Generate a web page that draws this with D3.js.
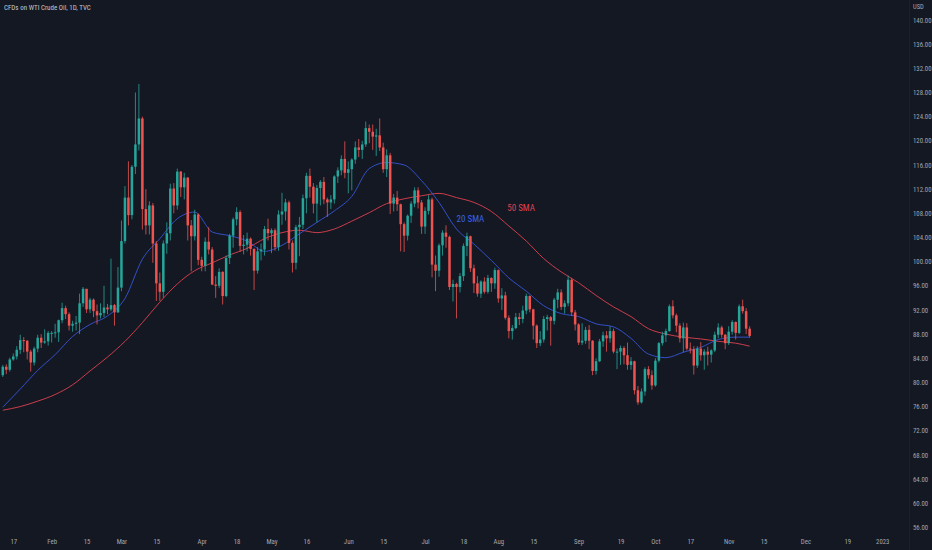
<!DOCTYPE html>
<html lang="en">
<head>
    <meta charset="UTF-8">
    <title>CFDs on WTI Crude Oil, 1D, TVC</title>
    <script src="https://d3js.org/d3.v7.min.js" charset="utf-8"></script>
    <style>
        html, body { margin: 0; padding: 0; background: #141823; }
        svg { display: block; }
        .axis text { font-family: "Liberation Sans Narrow", "Roboto Condensed", "Liberation Sans", sans-serif; font-size: 6.8px; fill: #a3a6af; }
        .axis path, .axis line { display: none; }
    </style>
</head>
<body>
<script>
    // trading sessions shown on the chart (Good Friday skipped)
    const dates = [
        "2022-01-12","2022-01-13","2022-01-14","2022-01-17","2022-01-18","2022-01-19","2022-01-20","2022-01-21","2022-01-24","2022-01-25","2022-01-26","2022-01-27","2022-01-28","2022-01-31",
        "2022-02-01","2022-02-02","2022-02-03","2022-02-04","2022-02-07","2022-02-08","2022-02-09","2022-02-10","2022-02-11","2022-02-14","2022-02-15","2022-02-16","2022-02-17","2022-02-18","2022-02-21","2022-02-22","2022-02-23","2022-02-24","2022-02-25","2022-02-28",
        "2022-03-01","2022-03-02","2022-03-03","2022-03-04","2022-03-07","2022-03-08","2022-03-09","2022-03-10","2022-03-11","2022-03-14","2022-03-15","2022-03-16","2022-03-17","2022-03-18","2022-03-21","2022-03-22","2022-03-23","2022-03-24","2022-03-25","2022-03-28","2022-03-29","2022-03-30","2022-03-31",
        "2022-04-01","2022-04-04","2022-04-05","2022-04-06","2022-04-07","2022-04-08","2022-04-11","2022-04-12","2022-04-13","2022-04-14","2022-04-18","2022-04-19","2022-04-20","2022-04-21","2022-04-22","2022-04-25","2022-04-26","2022-04-27","2022-04-28","2022-04-29",
        "2022-05-02","2022-05-03","2022-05-04","2022-05-05","2022-05-06","2022-05-09","2022-05-10","2022-05-11","2022-05-12","2022-05-13","2022-05-16","2022-05-17","2022-05-18","2022-05-19","2022-05-20","2022-05-23","2022-05-24","2022-05-25","2022-05-26","2022-05-27","2022-05-30","2022-05-31",
        "2022-06-01","2022-06-02","2022-06-03","2022-06-06","2022-06-07","2022-06-08","2022-06-09","2022-06-10","2022-06-13","2022-06-14","2022-06-15","2022-06-16","2022-06-17","2022-06-20","2022-06-21","2022-06-22","2022-06-23","2022-06-24","2022-06-27","2022-06-28","2022-06-29","2022-06-30",
        "2022-07-01","2022-07-04","2022-07-05","2022-07-06","2022-07-07","2022-07-08","2022-07-11","2022-07-12","2022-07-13","2022-07-14","2022-07-15","2022-07-18","2022-07-19","2022-07-20","2022-07-21","2022-07-22","2022-07-25","2022-07-26","2022-07-27","2022-07-28","2022-07-29",
        "2022-08-01","2022-08-02","2022-08-03","2022-08-04","2022-08-05","2022-08-08","2022-08-09","2022-08-10","2022-08-11","2022-08-12","2022-08-15","2022-08-16","2022-08-17","2022-08-18","2022-08-19","2022-08-22","2022-08-23","2022-08-24","2022-08-25","2022-08-26","2022-08-29","2022-08-30","2022-08-31",
        "2022-09-01","2022-09-02","2022-09-05","2022-09-06","2022-09-07","2022-09-08","2022-09-09","2022-09-12","2022-09-13","2022-09-14","2022-09-15","2022-09-16","2022-09-19","2022-09-20","2022-09-21","2022-09-22","2022-09-23","2022-09-26","2022-09-27","2022-09-28","2022-09-29","2022-09-30",
        "2022-10-03","2022-10-04","2022-10-05","2022-10-06","2022-10-07","2022-10-10","2022-10-11","2022-10-12","2022-10-13","2022-10-14","2022-10-17","2022-10-18","2022-10-19","2022-10-20","2022-10-21","2022-10-24","2022-10-25","2022-10-26","2022-10-27","2022-10-28","2022-10-31",
        "2022-11-01","2022-11-02","2022-11-03","2022-11-04","2022-11-07","2022-11-08","2022-11-09"
    ];

    const opens = [
        81.2,82.6,82.1,83.8,84.3,85.4,87.0,86.9,85.1,83.3,85.6,87.4,86.6,86.8,
        88.2,88.2,88.3,90.3,92.3,91.3,89.4,89.7,89.9,93.1,95.5,92.1,93.7,91.8,91.1,91.5,92.4,92.1,92.8,91.6,
        95.7,103.4,110.6,107.7,115.7,119.4,123.7,108.7,106.0,109.3,103.0,96.4,95.0,103.0,104.7,112.1,109.3,114.9,112.3,113.9,106.0,104.2,107.8,
        100.3,99.3,103.3,102.0,96.2,96.0,98.3,94.3,100.6,104.3,107.0,108.2,102.6,102.8,103.8,102.1,98.5,101.7,102.0,105.4,
        104.7,105.2,102.4,107.8,108.3,109.8,103.1,99.8,105.7,106.1,110.5,114.2,112.4,109.6,112.2,113.2,110.3,109.8,110.3,114.1,115.1,117.0,
        114.7,115.3,116.9,118.9,118.5,119.4,122.1,121.5,120.7,120.9,118.9,115.3,117.6,109.6,110.6,109.5,106.2,104.3,107.6,109.6,111.8,109.8,
        105.8,108.4,110.3,99.5,98.5,102.7,104.8,104.1,95.8,96.3,95.8,97.6,102.6,104.2,98.9,96.4,94.7,96.7,95.0,97.3,96.4,
        98.6,93.9,94.4,90.7,88.5,89.0,90.8,90.5,91.9,94.3,92.1,89.4,86.5,87.1,90.5,90.8,90.2,93.7,94.9,92.5,93.1,97.0,91.6,
        89.6,86.6,86.9,88.7,86.9,81.9,83.5,86.8,87.8,87.3,88.5,85.1,85.1,85.7,84.5,82.9,83.5,78.7,76.7,78.5,82.2,81.2,
        79.5,83.6,86.5,87.8,88.5,92.6,91.1,89.4,87.3,89.1,85.6,85.5,82.8,85.6,84.5,85.1,84.6,85.3,87.9,89.1,87.9,
        86.5,88.4,90.0,88.2,92.6,91.8,88.9
    ];
    const highs = [
        82.9,83.0,84.1,84.8,86.0,87.9,87.5,87.0,85.4,85.9,87.9,88.0,88.8,88.5,
        88.5,89.7,90.4,93.2,92.7,91.6,90.2,91.0,94.7,95.8,95.5,94.0,93.9,92.9,93.1,96.0,93.0,100.5,93.0,99.1,
        106.8,112.5,116.6,116.0,128.0,129.4,124.0,112.0,110.0,109.7,103.4,98.2,103.5,106.5,112.9,113.0,115.4,115.0,114.7,114.0,106.9,108.6,108.0,
        100.8,104.0,105.7,102.4,97.6,98.9,98.4,101.0,104.6,107.3,109.0,108.5,104.4,104.8,104.0,102.2,102.4,103.0,105.9,107.1,
        105.5,105.5,108.5,111.4,110.4,110.1,103.5,106.1,107.4,111.1,114.7,115.4,113.0,112.7,113.5,114.0,110.6,111.0,114.3,115.6,117.6,119.9,
        116.6,117.1,119.9,120.3,120.0,123.2,122.7,122.7,122.0,123.7,119.7,118.6,118.0,111.2,111.7,109.6,106.5,107.8,110.0,112.3,112.3,110.2,
        109.0,111.0,110.6,101.0,103.0,105.2,106.0,104.3,97.0,96.5,98.1,103.0,104.8,104.3,99.5,97.6,96.9,97.4,97.8,97.4,99.0,
        98.7,95.6,95.0,91.1,89.5,91.5,91.5,92.7,94.7,94.4,92.2,89.6,88.5,91.0,91.2,91.0,94.0,95.5,95.4,93.6,97.7,97.3,92.0,
        89.8,89.8,89.2,89.5,87.0,84.0,87.2,88.4,88.5,89.3,88.9,85.6,86.1,86.0,86.6,84.2,83.6,79.4,79.0,82.5,82.7,82.0,
        84.0,86.7,88.4,88.9,92.9,93.6,91.4,89.8,89.9,89.8,86.6,86.0,86.0,86.7,85.5,85.9,85.5,88.4,89.8,89.4,88.0,
        89.3,90.3,90.1,92.9,93.7,92.3,89.3
    ];
    const lows = [
        80.9,81.4,81.8,83.6,83.8,84.7,85.0,83.8,81.8,82.8,85.0,85.7,86.4,86.1,
        86.6,87.4,86.7,89.8,90.5,88.6,88.4,88.6,88.0,92.5,91.5,91.5,90.8,89.6,90.6,90.8,91.3,91.8,89.4,91.5,
        95.1,103.0,106.0,107.0,114.5,118.4,105.3,104.5,104.5,99.8,93.5,93.5,94.0,101.3,103.5,108.0,108.6,110.7,110.3,103.5,98.4,103.5,99.4,
        98.4,98.4,101.2,96.1,94.0,95.6,92.9,94.1,99.6,102.3,106.0,101.6,101.2,101.7,101.0,95.3,98.0,100.2,101.0,103.5,
        101.4,101.8,101.8,106.1,106.8,102.0,98.2,98.7,100.9,105.4,108.0,110.6,108.0,106.5,109.3,109.5,107.4,108.7,109.6,113.0,114.3,113.8,
        111.3,111.8,116.2,117.3,117.0,119.0,119.6,118.5,117.5,118.3,114.7,114.0,107.9,108.3,108.4,101.7,101.6,103.5,106.4,109.0,108.8,104.6,
        104.6,107.8,97.4,95.1,97.5,101.0,102.3,95.3,93.4,90.6,94.9,96.8,100.9,98.3,94.8,94.2,94.0,94.7,94.7,95.0,95.5,
        93.2,92.0,90.4,87.3,87.1,88.8,89.5,89.8,91.3,91.6,87.1,85.7,86.0,86.6,88.6,86.1,89.6,92.3,92.0,91.4,92.6,91.0,88.6,
        86.2,86.2,86.4,85.5,81.2,81.3,83.4,85.9,85.1,86.6,84.8,82.2,82.9,83.0,82.1,82.1,78.0,76.3,76.5,77.8,80.6,78.8,
        79.3,83.3,86.1,86.7,88.4,90.6,88.3,86.6,85.0,85.3,84.8,81.3,82.4,83.6,82.1,82.8,83.3,85.0,87.3,87.4,85.5,
        86.2,87.9,87.1,88.0,91.4,88.0,87.4
    ];
    const closes = [
        82.6,82.1,83.8,84.3,85.4,87.0,86.9,85.1,83.3,85.6,87.4,86.6,86.8,88.2,
        88.2,88.3,90.3,92.3,91.3,89.4,89.7,89.9,93.1,95.5,92.1,93.7,91.8,91.1,91.5,92.4,92.1,92.8,91.6,95.7,
        103.4,110.6,107.7,115.7,119.4,123.7,108.7,106.0,109.3,103.0,96.4,95.0,103.0,104.7,112.1,109.3,114.9,112.3,113.9,106.0,104.2,107.8,100.3,
        99.3,103.3,102.0,96.2,96.0,98.3,94.3,100.6,104.3,107.0,108.2,102.6,102.8,103.8,102.1,98.5,101.7,102.0,105.4,104.7,
        105.2,102.4,107.8,108.3,109.8,103.1,99.8,105.7,106.1,110.5,114.2,112.4,109.6,112.2,113.2,110.3,109.8,110.3,114.1,115.1,117.0,114.7,
        115.3,116.9,118.9,118.5,119.4,122.1,121.5,120.7,120.9,118.9,115.3,117.6,109.6,110.6,109.5,106.2,104.3,107.6,109.6,111.8,109.8,105.8,
        108.4,110.3,99.5,98.5,102.7,104.8,104.1,95.8,96.3,95.8,97.6,102.6,104.2,98.9,96.4,94.7,96.7,95.0,97.3,96.4,98.6,
        93.9,94.4,90.7,88.5,89.0,90.8,90.5,91.9,94.3,92.1,89.4,86.5,87.1,90.5,90.8,90.2,93.7,94.9,92.5,93.1,97.0,91.6,89.6,
        86.6,86.9,88.7,86.9,81.9,83.5,86.8,87.8,87.3,88.5,85.1,85.1,85.7,84.5,82.9,83.5,78.7,76.7,78.5,82.2,81.2,79.5,
        83.6,86.5,87.8,88.5,92.6,91.1,89.4,87.3,89.1,85.6,85.5,82.8,85.6,84.5,85.1,84.6,85.3,87.9,89.1,87.9,86.5,
        88.4,90.0,88.2,92.6,91.8,88.9,87.7
    ];

    // moving averages every 5 bars
    const smaBars = [0,5,10,15,20,25,30,35,40,45,50,55,60,65,70,75,80,85,90,95,100,105,110,115,120,125,130,135,140,145,150,155,160,165,170,175,180,185,190,195,200,205,210,214];
    const sma20 = [75.9,78.9,82.0,84.6,87.6,89.6,91.0,93.9,100.4,103.8,107.1,108.2,104.9,104.3,103.4,101.7,102.7,104.6,106.5,108.4,110.8,115.4,116.4,116.0,113.4,109.8,105.4,102.9,100.2,97.3,95.1,92.7,91.4,90.9,89.7,89.2,87.3,84.7,84.1,85.0,85.8,87.1,87.5,87.5];
    const sma50 = [75.4,76.0,76.9,78.0,79.6,81.9,84.2,86.8,89.9,93.3,96.3,98.5,99.8,101.1,102.2,103.8,104.8,105.2,104.8,105.4,106.7,108.1,109.6,110.4,110.9,111.3,110.6,109.8,108.3,105.9,103.4,100.5,98.3,96.5,94.4,92.5,90.9,88.9,88.0,87.5,87.2,86.8,86.5,86.0];

    const priceTicks = [140,136,132,128,124,120,116,112,108,104,100,96,92,88,84,80,76,72,68,64,60,56];
    const timeTickDates = ["2022-01-17","2022-02-01","2022-02-15","2022-03-01","2022-03-15","2022-04-01","2022-04-18","2022-05-02","2022-05-16","2022-06-01","2022-06-15","2022-07-01","2022-07-18","2022-08-01","2022-08-15","2022-09-01","2022-09-19","2022-10-03","2022-10-17","2022-11-01","2022-11-15","2022-12-01","2022-12-19","2023-01-02"];
    const timeTickLabels = ["17","Feb","15","Mar","15","Apr","18","May","16","Jun","15","Jul","18","Aug","15","Sep","19","Oct","17","Nov","15","Dec","19","2023"];

    const W = 932, H = 550;
    const plotRight = 909, plotBottom = 532;
    const upColor = '#26a69a', downColor = '#ef5350';
    const narrow = '"Liberation Sans Narrow", "Roboto Condensed", "Liberation Sans", sans-serif';

    const parse = d3.utcParse('%Y-%m-%d');
    // bar number of a date; dates past the data continue on weekdays
    function barIndex(s) {
        let i = dates.indexOf(s);
        if (i >= 0) return i;
        let last = parse(dates[dates.length - 1]);
        let days = d3.utcDay.range(d3.utcDay.offset(last, 1), d3.utcDay.offset(parse(s), 1))
            .filter(d => d.getUTCDay() > 0 && d.getUTCDay() < 6);
        return dates.length - 1 + days.length;
    }

    let bars = dates.map((d, i) => ({i: i, o: opens[i], h: highs[i], l: lows[i], c: closes[i]}));

    let x = d3.scaleLinear().domain([-0.8, 252.5]).range([0, 884]);
    let y = d3.scaleLinear().domain([56, 140]).range([527.4, 20]);

    let svg = d3.select('body').append('svg').attr('width', W).attr('height', H);
    svg.append('rect').attr('width', W).attr('height', H).attr('fill', '#141823');

    svg.append('clipPath').attr('id', 'plot')
        .append('rect').attr('x', 0).attr('y', 0).attr('width', plotRight).attr('height', plotBottom);

    // price scale separator
    svg.append('line').attr('x1', plotRight + 0.5).attr('x2', plotRight + 0.5)
        .attr('y1', 0).attr('y2', H).attr('stroke', '#1c202b');

    let plot = svg.append('g').attr('clip-path', 'url(#plot)');

    // moving averages
    let smaLine = (vals) => d3.line()
        .x((b, k) => x(b))
        .y((b, k) => y(vals[k]))
        .curve(d3.curveMonotoneX)(smaBars);

    plot.append('path').attr('d', smaLine(sma50))
        .attr('fill', 'none').attr('stroke', '#e0414f').attr('stroke-width', 0.9);
    plot.append('path').attr('d', smaLine(sma20))
        .attr('fill', 'none').attr('stroke', '#3556d8').attr('stroke-width', 0.9);

    // candles
    let bw = 2.5;
    let candle = plot.selectAll('g.candle').data(bars).enter().append('g').attr('class', 'candle');
    candle.append('line')
        .attr('x1', d => x(d.i)).attr('x2', d => x(d.i))
        .attr('y1', d => y(d.h)).attr('y2', d => y(d.l))
        .attr('stroke', d => d.c >= d.o ? upColor : downColor)
        .attr('stroke-width', 0.8);
    candle.append('rect')
        .attr('x', d => x(d.i) - bw / 2)
        .attr('y', d => y(Math.max(d.o, d.c)))
        .attr('width', bw)
        .attr('height', d => Math.max(1, Math.abs(y(d.o) - y(d.c))))
        .attr('fill', d => d.c >= d.o ? upColor : downColor);

    // indicator labels
    plot.append('text').attr('x', x(134)).attr('y', y(106.6))
        .attr('text-anchor', 'middle')
        .attr('font-family', narrow).attr('font-size', 9)
        .attr('fill', '#3a63e6').text('20 SMA');
    plot.append('text').attr('x', x(148.5)).attr('y', y(108.4))
        .attr('text-anchor', 'middle')
        .attr('font-family', narrow).attr('font-size', 9)
        .attr('fill', '#e0414f').text('50 SMA');

    // axes
    let yAxis = d3.axisRight(y).tickValues(priceTicks).tickSize(0).tickPadding(3)
        .tickFormat(d3.format('.2f'));
    svg.append('g').attr('class', 'axis').attr('transform', 'translate(' + (plotRight + 1) + ',0)').call(yAxis);

    let xAxis = d3.axisBottom(x).tickValues(timeTickDates.map(barIndex)).tickSize(0).tickPadding(3)
        .tickFormat((d, i) => timeTickLabels[i]);
    svg.append('g').attr('class', 'axis').attr('transform', 'translate(0,536)').call(xAxis);

    svg.append('text').attr('x', 913).attr('y', 9)
        .attr('font-family', narrow).attr('font-size', 6.5)
        .attr('fill', '#a3a6af').text('USD');

    svg.append('text').attr('x', 4).attr('y', 10)
        .attr('font-family', narrow).attr('font-size', 7)
        .attr('fill', '#c3c6ce').text('CFDs on WTI Crude Oil, 1D, TVC');
</script>
</body>
</html>
